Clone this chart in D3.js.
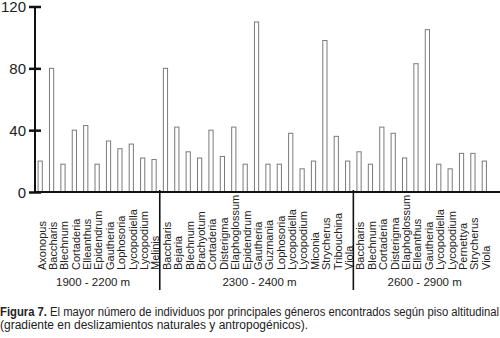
<!DOCTYPE html>
<html lang="es">
<head>
    <meta charset="UTF-8">
    <title>Figura 7</title>
    <script src="https://d3js.org/d3.v7.min.js"></script>
    <style>
        body { margin: 0; background: #fff; }
        svg { display: block; }
        .genus { font: 11px "Liberation Sans", Arial, sans-serif; fill: #222; }
        .group { font: 11.5px "Liberation Sans", Arial, sans-serif; fill: #222; }
        .ytick text { font: 15px "Liberation Sans", Arial, sans-serif; fill: #222; }
        .caption { font: 12px "Liberation Sans", Arial, sans-serif; fill: #222; }
        .caption.bold { font-weight: bold; }
    </style>
</head>
<body>
<div id="chart"></div>
<script>
// altitude ranges
const groups = ["1900 - 2200 m", "2300 - 2400 m", "2600 - 2900 m"];

const genera1900 = ["Axonopus", "Baccharis", "Blechnum", "Cortaderia", "Elleanthus", "Epidendrum",
    "Gautheria", "Lophosoria", "Lycopodiella", "Lycopodium", "Melinis"];
const values1900 = [20, 80, 18, 40, 43, 18, 33, 28, 31, 22, 21];

const genera2300 = ["Baccharis", "Bejaria", "Blechnum", "Brachyotum", "Cortaderia", "Disterigma",
    "Elaphoglossum", "Epidendrum", "Gautheria", "Guzmania", "Lophosoria", "Lycopodiella",
    "Lycopodium", "Miconia", "Strycherus", "Tribouchina", "Viola"];
const values2300 = [80, 42, 26, 22, 40, 23, 42, 18, 110, 18, 18, 38, 15, 20, 98, 36, 20];

const genera2600 = ["Baccharis", "Blechnum", "Cortaderia", "Disterigma", "Elaphoglossum", "Elleanthus",
    "Gautheria", "Lycopodiella", "Lycopodium", "Pernettya", "Strycherus", "Viola"];
const values2600 = [26, 18, 42, 38, 22, 83, 105, 18, 15, 25, 25, 20];

const yTicks = [0, 40, 80, 120];

// flat list for the band scale
const generaByGroup = [genera1900, genera2300, genera2600];
const valuesByGroup = [values1900, values2300, values2600];
const rows = [];
generaByGroup.forEach((list, g) => {
    list.forEach((name, i) => rows.push({ id: g + "-" + name, name: name, group: g, value: valuesByGroup[g][i] }));
});

const width = 500, height = 338;

const svg = d3.select("#chart").append("svg")
    .attr("width", width)
    .attr("height", height);

const x = d3.scaleBand()
    .domain(rows.map(d => d.id))
    .range([34.5, 490])
    .paddingInner(0.63)
    .paddingOuter(0.315);

const y = d3.scaleLinear()
    .domain([0, 120])
    .range([192, 6.5]);

// bars
svg.append("g").selectAll("rect")
    .data(rows)
    .enter()
    .append("rect")
    .attr("x", d => x(d.id))
    .attr("y", d => y(d.value))
    .attr("width", x.bandwidth())
    .attr("height", d => y(0) - y(d.value))
    .attr("fill", "#fff")
    .attr("stroke", "#7a7a7a")
    .attr("stroke-width", 1);

// y axis
const yAxis = svg.append("g")
    .attr("class", "ytick")
    .attr("transform", "translate(35,0)")
    .call(d3.axisLeft(y).tickValues(yTicks).tickSize(6).tickPadding(3));
yAxis.select(".domain").remove();
yAxis.selectAll(".tick line")
    .attr("x1", 6)
    .attr("stroke", "#111")
    .attr("stroke-width", 2.5);
yAxis.selectAll(".tick text").attr("dy", "0.34em");

svg.append("line")
    .attr("x1", 35).attr("x2", 35)
    .attr("y1", y(120)).attr("y2", y(0) + 1)
    .attr("stroke", "#111").attr("stroke-width", 2);

// x axis line
svg.append("line")
    .attr("x1", 35).attr("x2", 500)
    .attr("y1", y(0)).attr("y2", y(0))
    .attr("stroke", "#111").attr("stroke-width", 2);

// genus labels
svg.append("g").selectAll("text")
    .data(rows)
    .enter()
    .append("text")
    .attr("class", "genus")
    .attr("transform", d => "translate(" + (x(d.id) + x.bandwidth() / 2 + 1.5) + ",270) rotate(-90)")
    .attr("dy", "0.35em")
    .text(d => d.name);

// group dividers and labels
const step = x.step();
groups.forEach((label, g) => {
    const ids = rows.filter(d => d.group === g).map(d => d.id);
    const left = x(ids[0]) - (step - x.bandwidth()) / 2;
    const right = x(ids[ids.length - 1]) + x.bandwidth() + (step - x.bandwidth()) / 2;
    if (g > 0) {
        svg.append("line")
            .attr("x1", left).attr("x2", left)
            .attr("y1", y(0) - 2).attr("y2", 290)
            .attr("stroke", "#111").attr("stroke-width", 1.6);
    }
    svg.append("text")
        .attr("class", "group")
        .attr("x", (left + right) / 2 + (g === 0 ? -4 : 3))
        .attr("y", 286)
        .attr("text-anchor", "middle")
        .text(label);
});

// caption
svg.append("text")
    .attr("class", "caption bold")
    .attr("x", 0).attr("y", 315.5)
    .attr("textLength", 47)
    .attr("lengthAdjust", "spacingAndGlyphs")
    .text("Figura 7.");
svg.append("text")
    .attr("class", "caption")
    .attr("x", 50).attr("y", 315.5)
    .attr("textLength", 449)
    .attr("lengthAdjust", "spacingAndGlyphs")
    .text("El mayor número de individuos por principales géneros encontrados según piso altitudinal");
svg.append("text")
    .attr("class", "caption")
    .attr("x", 0).attr("y", 328.5)
    .attr("textLength", 308)
    .attr("lengthAdjust", "spacingAndGlyphs")
    .text("(gradiente en deslizamientos naturales y antropogénicos).");
</script>
</body>
</html>
